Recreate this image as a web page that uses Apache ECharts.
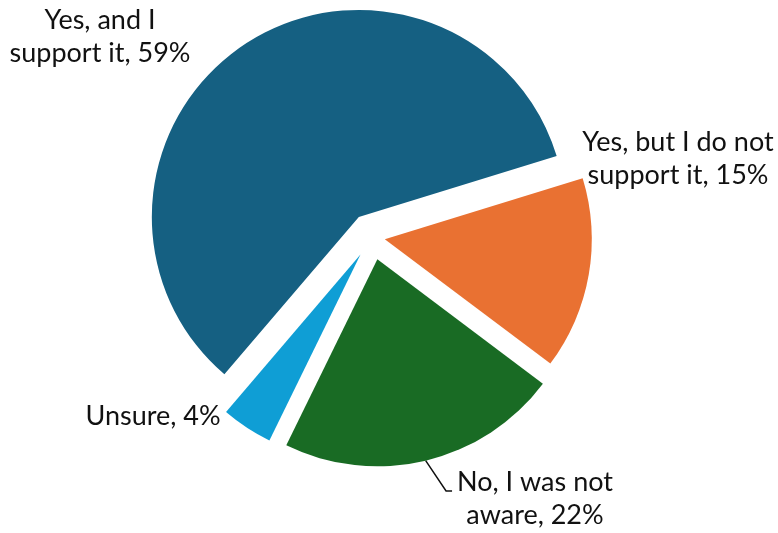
<!DOCTYPE html>
<html><head><meta charset="utf-8">
<script src="https://cdn.jsdelivr.net/npm/echarts@6/dist/echarts.min.js"></script>
<style>html,body{margin:0;padding:0;background:#fff}#c{width:778px;height:533px}</style>
</head><body><div id="c"></div>
<script>
const categories = ['Yes, and I\nsupport it', 'Yes, but I do not\nsupport it', 'No, I was not\naware', 'Unsure'];
const values = [59, 15, 22, 4];
const colors = ['#156082', '#E97132', '#196B24', '#0F9ED5'];

const chart = echarts.init(document.getElementById('c'), null, {renderer: 'canvas'});
const CX = 372, CY = 237, R = 207, START = 229.5;
const explode = [24, 13, 23, 21];
const labelCenters = [[100, 37], [678, 159], [535, 499], [153, 416]];
const total = values.reduce((a, b) => a + b, 0);
let acc = 0;
const mids = values.map(v => { const m = START - (acc + v / 2) / total * 360; acc += v; return m * Math.PI / 180; });

const series = values.map((_, k) => {
  const ox = CX + explode[k] * Math.cos(mids[k]);
  const oy = CY - explode[k] * Math.sin(mids[k]);
  return {
    type: 'pie', silent: true, animation: false, startAngle: START, clockwise: true,
    center: [ox, oy], radius: [0, R], avoidLabelOverlap: false, minAngle: 0,
    emphasis: {disabled: true},
    itemStyle: {borderWidth: 0},
    label: {show: false, position: 'outside', formatter: '{b}, {c}%', fontFamily: 'Lato', fontSize: 27, lineHeight: 33, color: '#111', align: 'center'},
    labelLine: {show: false, length: 10, length2: 10, lineStyle: {color: '#111', width: 1.5}},
    data: values.map((v, i) => ({
      value: v, name: categories[i],
      itemStyle: {color: i === k ? colors[i] : 'rgba(0,0,0,0)', borderWidth: 0},
      label: {show: i === k},
      labelLine: {show: i === k && k === 2}
    })),
    labelLayout: function (p) {
      if (p.dataIndex !== k) return {};
      const c = labelCenters[k];
      const out = {x: c[0], y: c[1], align: 'center', verticalAlign: 'middle'};
      if (k === 2) {
        const ax = ox + R * Math.cos(mids[k]);
        const ay = oy - R * Math.sin(mids[k]);
        const left = c[0] - p.labelRect.width / 2;
        const ey = c[1] - 8;
        out.labelLinePoints = [[ax, ay], [left - 11, ey], [left - 5, ey]];
      }
      return out;
    }
  };
});

chart.setOption({animation: false, series: series});
</script></body></html>
